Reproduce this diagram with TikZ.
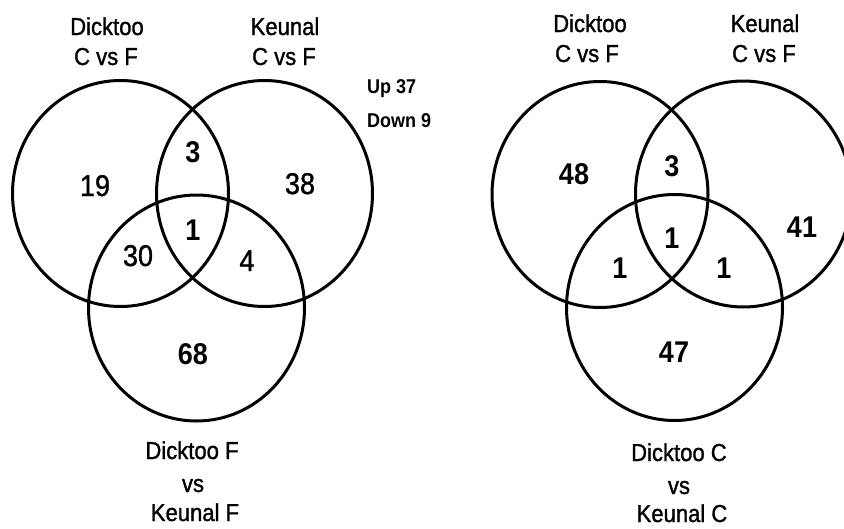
\documentclass[tikz,border=0pt]{standalone}
\usepackage{fontspec}
\setmainfont[FakeStretch=0.9]{Liberation Sans}
\newfontfamily\heavyfont[FakeStretch=0.9,FakeBold=1.2]{Liberation Sans}
\begin{document}
\begin{tikzpicture}[x=1pt,y=-1pt,
  venn/.style={line width=3pt},
  title/.style={anchor=base, inner sep=0pt, font=\heavyfont\fontsize{24.5}{28}\selectfont},
  num/.style={anchor=base, inner sep=0pt, font=\heavyfont\fontsize{30}{32}\selectfont},
  bnum/.style={anchor=base, inner sep=0pt, font=\fontsize{30}{32}\selectfont\bfseries},
  ud/.style={anchor=base west, inner sep=0pt, font=\fontsize{20}{22}\selectfont\bfseries}]
\useasboundingbox (0,0) rectangle (844,528);
% left diagram
\draw[venn] (120.5,193.5) ellipse [x radius=108pt, y radius=113pt];
\draw[venn] (264.5,193.5) ellipse [x radius=108pt, y radius=113pt];
\draw[venn] (196.5,308) ellipse [x radius=108pt, y radius=113pt];
\node[title] (lta1) at (107,35) {Dicktoo};
\node[title] (lta2) at (106,65) {C vs F};
\node[title] (ltb1) at (285,35) {Keunal};
\node[title] (ltb2) at (284,65) {C vs F};
\node[ud] (up) at (367,93) {Up 37};
\node[ud] (down) at (367,127) {Down 9};
\node[num] (l19) at (95,196) {19};
\node[bnum] (l3) at (193,162) {3};
\node[num] (l38) at (300,194) {38};
\node[bnum] (l1) at (193,240) {1};
\node[num] (l30) at (138,266) {30};
\node[num] (l4) at (247,271) {4};
\node[bnum] (l68) at (193,364) {68};
\node[title] (lbc1) at (192,459) {Dicktoo F};
\node[title] (lbc2) at (193,492) {vs};
\node[title] (lbc3) at (195,521) {Keunal F};
% right diagram
\draw[venn] (600,194.5) ellipse [x radius=108pt, y radius=113pt];
\draw[venn] (743.5,194) ellipse [x radius=108pt, y radius=113pt];
\draw[venn] (674.5,307.5) ellipse [x radius=108pt, y radius=113pt];
\node[title] (rta1) at (590,32) {Dicktoo};
\node[title] (rta2) at (587,62) {C vs F};
\node[title] (rtb1) at (765,32) {Keunal};
\node[title] (rtb2) at (764,62) {C vs F};
\node[bnum] (r48) at (574,184) {48};
\node[bnum] (r3) at (672,176) {3};
\node[bnum] (r1) at (672,248) {1};
\node[bnum] (r41) at (802,237) {41};
\node[bnum] (r1a) at (620,278) {1};
\node[bnum] (r1b) at (724,278) {1};
\node[bnum] (r47) at (674,362) {47};
\node[title] (rbc1) at (679,461) {Dicktoo C};
\node[title] (rbc2) at (679,494) {vs};
\node[title] (rbc3) at (682,522) {Keunal C};
\end{tikzpicture}
\end{document}
